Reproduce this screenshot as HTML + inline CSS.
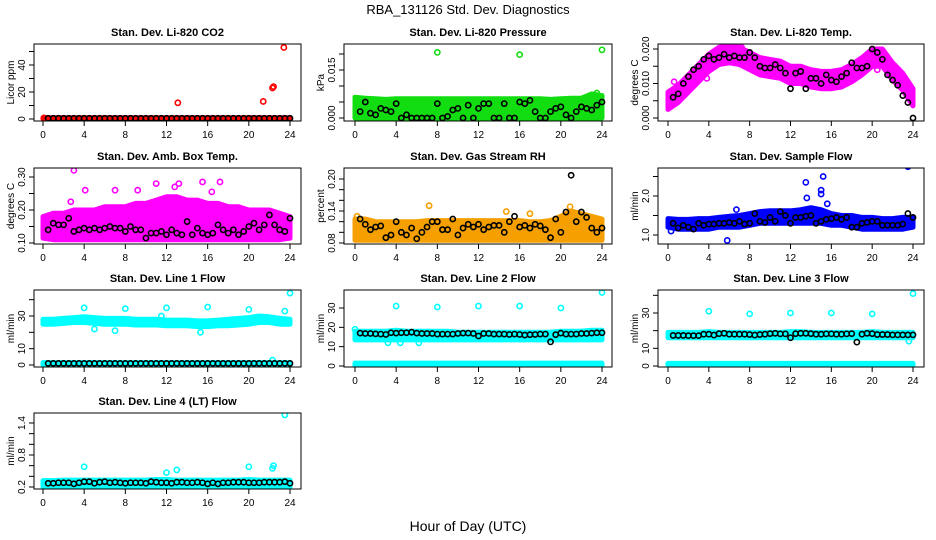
<!DOCTYPE html>
<html><head><meta charset="utf-8"><style>
html,body{margin:0;padding:0;background:#fff}
svg{display:block;font-family:"Liberation Sans",Arial,sans-serif}
</style></head><body>
<svg id="chart" width="936" height="540" viewBox="0 0 936 540">
<text x="468" y="14" text-anchor="middle" font-size="13">RBA_131126  Std. Dev. Diagnostics</text>
<text x="468" y="531" text-anchor="middle" font-size="14">Hour of Day (UTC)</text>
</svg>
<script>
const hours48=[0.5,1,1.5,2,2.5,3,3.5,4,4.5,5,5.5,6,6.5,7,7.5,8,8.5,9,9.5,10,10.5,11,11.5,12,12.5,13,13.5,14,14.5,15,15.5,16,16.5,17,17.5,18,18.5,19,19.5,20,20.5,21,21.5,22,22.5,23,23.5,24];
const bandHours=[0,1,2,3,4,5,6,7,8,9,10,11,12,13,14,15,16,17,18,19,20,21,22,23,24];
const xTicks=[0,4,8,12,16,20,24];

const co2Lo=[0,0,0,0,0,0,0,0,0,0,0,0,0,0,0,0,0,0,0,0,0,0,0,0,0];
const co2Hi=[1,1,1,1,1,1,1,1,1,1,1,1,1,1,1,1,1,1,1,1,1,1,1,1,1];
const co2OutX=[0.1,13.1,21.4,22.3,22.4,23.4];
const co2OutY=[0.8,12,13,23,24,53];
const co2Black=[0.5,0.5,0.5,0.5,0.5,0.5,0.5,0.5,0.5,0.5,0.5,0.5,0.5,0.5,0.5,0.5,0.5,0.5,0.5,0.5,0.5,0.5,0.5,0.5,0.5,0.5,0.5,0.5,0.5,0.5,0.5,0.5,0.5,0.5,0.5,0.5,0.5,0.5,0.5,0.5,0.5,0.5,0.5,0.5,0.5,0.5,0.5,0.5];

const presLo=[0,0,0,0,0,0,0,0,0,0,0,0,0,0,0,0,0,0,0,0,0,0,0,0,0];
const presHi=[0.0065,0.0062,0.006,0.0058,0.006,0.006,0.006,0.006,0.006,0.006,0.006,0.006,0.006,0.006,0.006,0.006,0.006,0.006,0.006,0.0058,0.006,0.0062,0.0062,0.0075,0.007];
const presOutX=[8,16,24,23.5];
const presOutY=[0.0205,0.0198,0.0213,0.0078];
const presBlack=[0.002,0.005,0.0015,0.001,0.003,0.0025,0.002,0.0045,0,0.001,0,0,0,0,0,0.0045,0,0.0005,0.0025,0.003,0,0.004,0,0.003,0.0045,0.0045,0,0,0.0045,0,0,0.005,0.0045,0.0055,0.002,0,0,0.002,0.003,0.0035,0.001,0,0.002,0.0035,0.003,0.0025,0.004,0.005];

const tempLo=[0.0025,0.0045,0.0075,0.0105,0.0135,0.0155,0.016,0.0155,0.014,0.0125,0.012,0.0115,0.01,0.01,0.009,0.0085,0.0085,0.009,0.0105,0.0125,0.015,0.015,0.011,0.008,0.0035];
const tempHi=[0.0075,0.0095,0.0125,0.0155,0.0185,0.0205,0.021,0.0205,0.019,0.0175,0.017,0.0165,0.015,0.015,0.014,0.0135,0.0135,0.014,0.0155,0.0175,0.02,0.02,0.016,0.013,0.0085];
const tempOutX=[0.6,3.8,7.2,20.5];
const tempOutY=[0.0105,0.0115,0.0205,0.014];
const tempBlack=[0.006,0.007,0.010,0.012,0.014,0.015,0.017,0.018,0.017,0.0175,0.0185,0.0175,0.018,0.0175,0.0175,0.019,0.0175,0.015,0.0145,0.0145,0.0155,0.0145,0.013,0.0085,0.013,0.0135,0.0085,0.0115,0.0115,0.010,0.0125,0.011,0.0105,0.012,0.013,0.016,0.0145,0.0145,0.015,0.020,0.019,0.017,0.0125,0.011,0.0095,0.0065,0.0045,0.0];

const ambLo=[0.115,0.11,0.11,0.11,0.11,0.11,0.11,0.11,0.11,0.11,0.11,0.11,0.11,0.11,0.11,0.11,0.11,0.11,0.11,0.11,0.11,0.11,0.11,0.11,0.115];
const ambHi=[0.18,0.19,0.19,0.2,0.2,0.2,0.21,0.21,0.21,0.22,0.22,0.23,0.24,0.24,0.23,0.23,0.22,0.22,0.21,0.21,0.2,0.2,0.2,0.19,0.18];
const ambOutX=[3,4.1,7,9.2,11,13.2,15.5,17.2,16.4,2.7,12.8];
const ambOutY=[0.32,0.26,0.26,0.26,0.28,0.28,0.285,0.285,0.255,0.225,0.27];
const ambBlack=[0.14,0.16,0.155,0.155,0.175,0.135,0.14,0.145,0.14,0.145,0.14,0.145,0.15,0.145,0.145,0.135,0.15,0.14,0.14,0.115,0.13,0.13,0.135,0.125,0.14,0.13,0.125,0.165,0.125,0.145,0.13,0.125,0.13,0.155,0.14,0.13,0.14,0.125,0.135,0.15,0.16,0.14,0.155,0.185,0.155,0.14,0.135,0.175];

const rhLo=[0.085,0.085,0.085,0.085,0.085,0.085,0.085,0.085,0.085,0.085,0.085,0.085,0.085,0.085,0.085,0.085,0.085,0.085,0.085,0.085,0.085,0.085,0.085,0.085,0.085];
const rhHi=[0.125,0.125,0.12,0.12,0.12,0.12,0.12,0.122,0.122,0.122,0.122,0.122,0.122,0.122,0.122,0.122,0.122,0.12,0.12,0.122,0.13,0.14,0.135,0.13,0.125];
const rhOutX=[7.2,17,14.7,20.9,0.2];
const rhOutY=[0.15,0.135,0.139,0.148,0.13];
const rhBlack=[0.125,0.115,0.105,0.11,0.112,0.09,0.095,0.12,0.1,0.095,0.108,0.088,0.1,0.11,0.12,0.12,0.105,0.105,0.125,0.095,0.108,0.115,0.11,0.115,0.105,0.11,0.113,0.113,0.1,0.12,0.13,0.11,0.113,0.108,0.115,0.112,0.105,0.09,0.125,0.1,0.138,0.207,0.12,0.138,0.128,0.108,0.1,0.108];

const flowLo=[1.2,1.15,1.15,1.15,1.15,1.2,1.2,1.2,1.25,1.3,1.3,1.3,1.3,1.3,1.3,1.3,1.25,1.25,1.2,1.15,1.15,1.15,1.15,1.15,1.2];
const flowHi=[1.42,1.4,1.4,1.42,1.42,1.45,1.48,1.5,1.55,1.6,1.62,1.62,1.62,1.65,1.7,1.65,1.55,1.5,1.5,1.45,1.45,1.42,1.42,1.45,1.45];
const flowOutX=[5.8,13.5,13.6,15,15,15.2,23.5,6.7,0.3,15.6];
const flowOutY=[0.86,2.35,1.95,2.05,2.15,2.5,2.75,1.65,1.1,1.8];
const flowBlack=[1.3,1.18,1.25,1.2,1.15,1.3,1.25,1.28,1.28,1.3,1.3,1.32,1.3,1.35,1.28,1.3,1.55,1.35,1.32,1.45,1.35,1.6,1.5,1.3,1.45,1.45,1.48,1.5,1.3,1.35,1.4,1.42,1.45,1.4,1.45,1.2,1.2,1.3,1.32,1.35,1.35,1.25,1.25,1.25,1.25,1.28,1.55,1.45];

const l1Lo=[25,25,25.5,26,26,25.5,25,25,25,24.5,24.5,24.5,24,24,24,23.5,23.5,24,24,24.5,25,26,26,25,25];
const l1Hi=[28,28,28.5,29,29.5,29,28.5,28.5,28.5,28,28,28,27.5,27.5,27.5,27,27,27.5,28,28.5,29,30,29.5,28.5,28];
const l1Lo2=[0,0,0,0,0,0,0,0,0,0,0,0,0,0,0,0,0,0,0,0,0,0,0,0,0];
const l1Hi2=[1.5,1.5,1.5,1.5,1.5,1.5,1.5,1.5,1.5,1.5,1.5,1.5,1.5,1.5,1.5,1.5,1.5,1.5,1.5,1.5,1.5,1.5,1.5,1.5,1.5];
const l1OutX=[4,8,12,16,20,23.5,24,5,7,15.3,11.5,22.3];
const l1OutY=[35,34.5,35,35.5,34,33,44,22,21,20,30,3];
const l1Black=[1,1,1,1,1,1,1,1,1,1,1,1,1,1,1,1,1,1,1,1,1,1,1,1,1,1,1,1,1,1,1,1,1,1,1,1,1,1,1,1,1,1,1,1,1,1,1,1];

const l2Lo=[13.5,13.5,13.5,13.5,13.5,13.5,13.5,13.5,13.5,13.5,13.5,13.5,13.5,13.5,13.5,13.5,13.5,13.5,13.5,13.5,13.5,13.5,13.5,13.5,13.5];
const l2Hi=[18,18,18,18,18.5,18,18,18,18,18,17.5,17.5,17.5,17.5,17.5,17.5,17.5,17.5,17.5,17.5,18,18,18,18.5,18.5];
const l2Lo2=[0,0,0,0,0,0,0,0,0,0,0,0,0,0,0,0,0,0,0,0,0,0,0,0,0];
const l2Hi2=[1.5,1.5,1.5,1.5,1.5,1.5,1.5,1.5,1.5,1.5,1.5,1.5,1.5,1.5,1.5,1.5,1.5,1.5,1.5,1.5,1.5,1.5,1.5,1.5,1.5];
const l2OutX=[4,8,12,16,20,24,3.2,4.4,6.2,0];
const l2OutY=[31,30.5,31,31,30,38,12,12,12,19];
const l2Black=[17,16.8,16.8,16.6,16.5,16.3,17.2,17,17.2,17.2,17.5,17,16.8,16.8,16.8,16.5,16.5,16.5,16.5,16.8,17,17,16.8,15.5,16.8,16.8,16.5,16.5,16.5,16.3,16.5,16.3,16,16.2,16.3,16.5,16.5,12.5,16.2,17,16.5,16.5,16.5,16.8,16.8,17,17.2,17.2];

const l3Lo=[16,16,16,16,16,16,16,16,16,16,16,16,16,16,16,16,16,16,16,16,16,16,16,16,16];
const l3Hi=[19,19,19,19,19.5,19,19,19,19,19,19,19,19.5,19.5,19,19,19,19,19,19,19.5,19,19,19,19];
const l3Lo2=[0,0,0,0,0,0,0,0,0,0,0,0,0,0,0,0,0,0,0,0,0,0,0,0,0];
const l3Hi2=[1.5,1.5,1.5,1.5,1.5,1.5,1.5,1.5,1.5,1.5,1.5,1.5,1.5,1.5,1.5,1.5,1.5,1.5,1.5,1.5,1.5,1.5,1.5,1.5,1.5];
const l3OutX=[4,8,12,16,20,24,23.6];
const l3OutY=[31,29.5,30,30,29.5,41,14];
const l3Black=[17.3,17.3,17.3,17.2,17.2,17.2,18,18,17.5,18.3,18.5,18,18,18,18,17.8,17.5,17.8,18,18.3,18.5,18.2,18.2,16,18.3,18.5,18.5,18.3,18,18,18.2,18.2,18,18,18.2,18.3,13.5,18,18.5,18.3,17.8,17.8,17.8,17.6,17.6,17.6,17.6,17.6];

const l4Lo=[0.2,0.2,0.2,0.2,0.2,0.2,0.2,0.2,0.2,0.2,0.2,0.2,0.2,0.2,0.2,0.2,0.2,0.2,0.2,0.2,0.2,0.2,0.2,0.2,0.2];
const l4Hi=[0.32,0.32,0.33,0.33,0.33,0.33,0.33,0.33,0.33,0.33,0.33,0.34,0.34,0.33,0.33,0.33,0.33,0.33,0.33,0.33,0.34,0.33,0.33,0.33,0.33];
const l4OutX=[4,12,13,20,22.3,22.4,23.5];
const l4OutY=[0.58,0.47,0.52,0.58,0.55,0.6,1.55];
const l4Black=[0.27,0.27,0.28,0.28,0.28,0.26,0.28,0.3,0.3,0.27,0.29,0.3,0.28,0.29,0.28,0.27,0.28,0.28,0.28,0.27,0.3,0.29,0.28,0.28,0.27,0.29,0.29,0.28,0.28,0.29,0.28,0.26,0.28,0.26,0.28,0.28,0.29,0.29,0.29,0.28,0.28,0.28,0.29,0.29,0.29,0.29,0.3,0.27];

const NS='http://www.w3.org/2000/svg';
const svg=document.getElementById('chart');
function mk(tag,attrs,parent){const e=document.createElementNS(NS,tag);for(const k in attrs)e.setAttribute(k,attrs[k]);(parent||svg).appendChild(e);return e;}

const cols=[{l:34,r:301,x0:43,x24:290,yt:8},{l:344,r:612,x0:355,x24:602,yt:318},{l:658,r:924,x0:668,x24:913,yt:632}];
const rows=[{t:44,b:121},{t:168,b:244},{t:290,b:367},{t:413,b:489}];

const panels=[
 {key:'co2',c:0,r:0,title:'Stan. Dev. Li-820 CO2',ylab:'Licor ppm',va:0,pa:119,vb:40,pb:65,ticks:[0,10,20,30,40,50],labels:[0,20,40],fmt:0,color:'#ff0000',lo:co2Lo,hi:co2Hi,ox:co2OutX,oy:co2OutY,bk:co2Black},
 {key:'pressure',c:1,r:0,title:'Stan. Dev. Li-820 Pressure',ylab:'kPa',va:0,pa:118,vb:0.015,pb:70,ticks:[0,0.005,0.01,0.015,0.02],labels:[0,0.015],fmt:3,color:'#11dd11',lo:presLo,hi:presHi,ox:presOutX,oy:presOutY,bk:presBlack},
 {key:'licor-temp',c:2,r:0,title:'Stan. Dev. Li-820 Temp.',ylab:'degrees C',va:0,pa:118,vb:0.02,pb:49,ticks:[0,0.005,0.01,0.015,0.02],labels:[0,0.01,0.02],fmt:3,color:'#ff00ff',lo:tempLo,hi:tempHi,ox:tempOutX,oy:tempOutY,bk:tempBlack},
 {key:'amb-box-temp',c:0,r:1,title:'Stan. Dev. Amb. Box Temp.',ylab:'degrees C',va:0.1,pa:243,vb:0.3,pb:177,ticks:[0.1,0.15,0.2,0.25,0.3],labels:[0.1,0.2,0.3],fmt:2,color:'#ff00ff',lo:ambLo,hi:ambHi,ox:ambOutX,oy:ambOutY,bk:ambBlack},
 {key:'gas-rh',c:1,r:1,title:'Stan. Dev. Gas Stream RH',ylab:'percent',va:0.08,pa:243,vb:0.2,pb:179,ticks:[0.08,0.1,0.12,0.14,0.16,0.18,0.2],labels:[0.08,0.14,0.2],fmt:2,color:'#f5a000',lo:rhLo,hi:rhHi,ox:rhOutX,oy:rhOutY,bk:rhBlack},
 {key:'sample-flow',c:2,r:1,title:'Stan. Dev. Sample Flow',ylab:'ml/min',va:1,pa:235,vb:2,pb:196,ticks:[1,1.5,2,2.5],labels:[1,2],fmt:1,color:'#0000ff',lo:flowLo,hi:flowHi,ox:flowOutX,oy:flowOutY,bk:flowBlack},
 {key:'line1-flow',c:0,r:2,title:'Stan. Dev. Line 1 Flow',ylab:'ml/min',va:0,pa:365,vb:30,pb:316,ticks:[0,10,20,30,40],labels:[0,10,30],fmt:0,color:'#00ffff',lo:l1Lo,hi:l1Hi,lo2:l1Lo2,hi2:l1Hi2,ox:l1OutX,oy:l1OutY,bk:l1Black},
 {key:'line2-flow',c:1,r:2,title:'Stan. Dev. Line 2 Flow',ylab:'ml/min',va:0,pa:366,vb:30,pb:308,ticks:[0,10,20,30],labels:[0,10,20,30],fmt:0,color:'#00ffff',lo:l2Lo,hi:l2Hi,lo2:l2Lo2,hi2:l2Hi2,ox:l2OutX,oy:l2OutY,bk:l2Black},
 {key:'line3-flow',c:2,r:2,title:'Stan. Dev. Line 3 Flow',ylab:'ml/min',va:0,pa:366,vb:30,pb:313,ticks:[0,10,20,30,40],labels:[0,10,30],fmt:0,color:'#00ffff',lo:l3Lo,hi:l3Hi,lo2:l3Lo2,hi2:l3Hi2,ox:l3OutX,oy:l3OutY,bk:l3Black},
 {key:'line4-flow',c:0,r:3,title:'Stan. Dev. Line 4 (LT) Flow',ylab:'ml/min',va:0.2,pa:487,vb:1.4,pb:423,ticks:[0.2,0.4,0.6,0.8,1,1.2,1.4],labels:[0.2,0.8,1.4],fmt:1,color:'#00ffff',lo:l4Lo,hi:l4Hi,ox:l4OutX,oy:l4OutY,bk:l4Black}
];

panels.forEach(p=>{
 const C=cols[p.c],R=rows[p.r];
 const g=mk('g',{});
 
 
 const xs=h=>C.x0+(C.x24-C.x0)*h/24;
 const ys=v=>p.pa+(p.pb-p.pa)*(v-p.va)/(p.vb-p.va);
 const clip=mk('clipPath',{id:'clip-'+p.key},g);
 mk('rect',{x:C.l,y:R.t,width:C.r-C.l,height:R.b-R.t},clip);
 const plot=mk('g',{'clip-path':'url(#clip-'+p.key+')'},g);
 function band(lo,hi,name){
  let d='';
  bandHours.forEach((h,i)=>{d+=(i?'L':'M')+xs(h).toFixed(1)+','+ys(hi[i]).toFixed(1);});
  for(let i=bandHours.length-1;i>=0;i--)d+='L'+xs(bandHours[i]).toFixed(1)+','+ys(lo[i]).toFixed(1);
  const b=mk('path',{d:d+'Z',fill:p.color,stroke:p.color,'stroke-width':5,'stroke-linejoin':'round'},plot);
  
  
 }
 band(p.lo,p.hi,p.key+'-data-band');
 if(p.lo2)band(p.lo2,p.hi2,p.key+'-zero-band');
 p.ox.forEach((h,i)=>{
  const c=mk('circle',{cx:xs(h),cy:ys(p.oy[i]),r:2.6,fill:'none',stroke:p.color,'stroke-width':1.6},plot);
  
  
 });
 p.bk.forEach((v,i)=>{
  const c=mk('circle',{cx:xs(hours48[i]),cy:ys(v),r:2.6,fill:'none',stroke:'#000','stroke-width':1.6},plot);
  
  
 });
 const box=mk('rect',{x:C.l,y:R.t,width:C.r-C.l,height:R.b-R.t,fill:'none',stroke:'#000','stroke-width':1},g);
 
 
 const t=mk('text',{x:(C.l+C.r)/2,y:R.t-8,'text-anchor':'middle','font-size':11,'font-weight':'bold'},g);
 t.textContent=p.title;
 
 
 xTicks.forEach(h=>{
  mk('line',{x1:xs(h),x2:xs(h),y1:R.b,y2:R.b+5,stroke:'#000'},g);
  const tl=mk('text',{x:xs(h),y:R.b+17,'text-anchor':'middle','font-size':10},g);
  tl.textContent=h;
  
  
 });
 p.ticks.forEach(v=>{
  const y=ys(v); if(y<R.t-1||y>R.b+1)return;
  mk('line',{x1:C.l-5,x2:C.l,y1:y,y2:y,stroke:'#000'},g);
 });
 p.labels.forEach(v=>{
  const y=ys(v);
  const tl=mk('text',{x:C.l-9,y:y,'text-anchor':'middle','font-size':10,transform:'rotate(-90 '+(C.l-9)+' '+y+')'},g);
  tl.textContent=v.toFixed(p.fmt);
  
  
 });
 const yl=mk('text',{x:C.yt+6,y:(R.t+R.b)/2,'text-anchor':'middle','font-size':10,transform:'rotate(-90 '+(C.yt+6)+' '+((R.t+R.b)/2)+')'},g);
 yl.textContent=p.ylab;
 
 
});
</script>
</body></html>
